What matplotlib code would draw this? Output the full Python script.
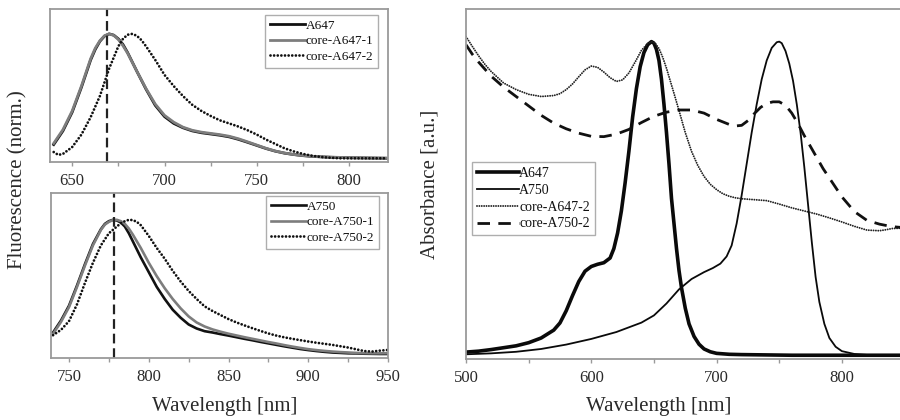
import matplotlib
matplotlib.use("Agg")
import matplotlib.pyplot as plt

plt.rcParams['font.family'] = ['Liberation Serif', 'DejaVu Serif']
plt.rcParams['lines.scale_dashes'] = False
plt.rcParams['lines.solid_joinstyle'] = 'round'
plt.rcParams['lines.dash_joinstyle'] = 'round'

# ---------------- Fluorescence, A647 series ----------------
wl_f647 = [640, 645, 650, 655, 660, 662.5, 665, 667.5, 670, 672.5, 675, 677.5, 680,
           685, 690, 695, 700, 705, 710, 715, 720, 725, 730, 735, 740, 745, 750,
           755, 760, 765, 770, 775, 780, 785, 790, 795, 800, 805, 810, 815, 820]
fl_a647 = [0.11, 0.22, 0.37, 0.57, 0.79, 0.875, 0.94, 0.982, 1.00, 0.99, 0.96,
           0.915, 0.85, 0.70, 0.555, 0.425, 0.335, 0.28, 0.245, 0.22, 0.205, 0.195,
           0.185, 0.172, 0.152, 0.128, 0.103, 0.078, 0.057, 0.041, 0.030, 0.021,
           0.015, 0.011, 0.008, 0.006, 0.004, 0.003, 0.002, 0.001, 0.0]
fl_core_a647_1 = [0.12, 0.23, 0.38, 0.58, 0.80, 0.885, 0.945, 0.985, 1.00, 0.988,
                  0.955, 0.905, 0.845, 0.70, 0.56, 0.435, 0.345, 0.29, 0.25, 0.225,
                  0.21, 0.20, 0.19, 0.177, 0.157, 0.132, 0.106, 0.080, 0.058, 0.042,
                  0.030, 0.022, 0.016, 0.012, 0.009, 0.007, 0.005, 0.004, 0.003,
                  0.002, 0.001]

wl_f647_core2 = [640, 642.5, 645, 650, 655, 660, 665, 670, 675, 677.5, 680, 682.5,
                 685, 687.5, 690, 695, 700, 705, 710, 715, 720, 725, 730, 735, 740,
                 745, 750, 755, 760, 765, 770, 775, 780, 785, 790, 795, 800, 810, 820]
fl_core_a647_2 = [0.05, 0.027, 0.035, 0.09, 0.19, 0.33, 0.50, 0.72, 0.90, 0.96,
                  0.993, 1.00, 0.985, 0.95, 0.90, 0.79, 0.67, 0.58, 0.50, 0.43,
                  0.38, 0.34, 0.305, 0.28, 0.255, 0.225, 0.19, 0.15, 0.115, 0.08,
                  0.055, 0.035, 0.02, 0.01, 0.004, 0.0, 0.0, 0.0, 0.0]
peak_a647_em = 669

# ---------------- Fluorescence, A750 series ----------------
wl_f750 = [740, 745, 750, 755, 760, 765, 770, 772.5, 775, 777.5, 780, 782.5, 785,
           787.5, 790, 795, 800, 805, 810, 815, 820, 825, 830, 835, 840, 845, 850,
           855, 860, 865, 870, 875, 880, 885, 890, 895, 900, 905, 910, 915, 920,
           925, 930, 935, 940, 945, 950]
fl_a750 = [0.16, 0.25, 0.36, 0.51, 0.67, 0.82, 0.93, 0.97, 0.99, 1.00, 0.995, 0.98,
           0.95, 0.90, 0.84, 0.72, 0.61, 0.50, 0.41, 0.33, 0.27, 0.22, 0.19, 0.17,
           0.16, 0.148, 0.137, 0.125, 0.113, 0.102, 0.090, 0.079, 0.068, 0.057,
           0.047, 0.037, 0.029, 0.022, 0.016, 0.011, 0.008, 0.005, 0.004, 0.002,
           0.001, 0.0, 0.0]
fl_core_a750_1 = [0.15, 0.24, 0.35, 0.50, 0.66, 0.81, 0.925, 0.965, 0.985, 0.998,
                  1.00, 0.99, 0.97, 0.935, 0.89, 0.79, 0.68, 0.58, 0.49, 0.41, 0.34,
                  0.28, 0.235, 0.205, 0.183, 0.166, 0.151, 0.138, 0.125, 0.113,
                  0.101, 0.089, 0.078, 0.066, 0.055, 0.045, 0.036, 0.029, 0.023,
                  0.018, 0.014, 0.011, 0.008, 0.006, 0.005, 0.005, 0.006]

wl_f750_core2 = [740, 745, 750, 755, 760, 765, 770, 775, 780, 782.5, 785, 787.5,
                 790, 792.5, 795, 800, 805, 810, 815, 820, 825, 830, 835, 840, 845,
                 850, 855, 860, 865, 870, 875, 880, 885, 890, 895, 900, 905, 910,
                 915, 920, 925, 930, 935, 940, 945, 950]
fl_core_a750_2 = [0.14, 0.18, 0.245, 0.37, 0.53, 0.68, 0.81, 0.90, 0.95, 0.975,
                  0.99, 1.00, 0.998, 0.985, 0.96, 0.88, 0.79, 0.71, 0.62, 0.54,
                  0.47, 0.41, 0.355, 0.32, 0.29, 0.26, 0.235, 0.213, 0.192, 0.172,
                  0.153, 0.137, 0.124, 0.113, 0.103, 0.093, 0.084, 0.076, 0.068,
                  0.058, 0.048, 0.035, 0.022, 0.018, 0.025, 0.030]
peak_a750_em = 778

# ---------------- Absorbance ----------------
wl_abs_a647 = [500, 510, 520, 530, 540, 550, 560, 570, 575, 580, 585, 590, 595, 600,
               605, 610, 615, 618, 621, 624, 627, 630, 633, 636, 639, 642, 645, 648,
               650, 652, 654, 656, 658, 660, 662, 664, 666, 668, 670, 672, 675, 678,
               682, 686, 690, 695, 700, 710, 720, 740, 760, 800, 850]
abs_a647 = [0.01, 0.013, 0.018, 0.024, 0.030, 0.040, 0.055, 0.080, 0.103, 0.142,
            0.19, 0.235, 0.268, 0.283, 0.29, 0.295, 0.31, 0.34, 0.39, 0.46, 0.55,
            0.65, 0.76, 0.85, 0.92, 0.965, 0.99, 1.00, 0.995, 0.975, 0.94, 0.88,
            0.80, 0.71, 0.61, 0.50, 0.42, 0.34, 0.27, 0.215, 0.15, 0.10, 0.06,
            0.035, 0.02, 0.011, 0.006, 0.003, 0.002, 0.001, 0.0, 0.0, 0.0]

wl_abs_a750 = [500, 520, 540, 560, 580, 600, 620, 640, 650, 660, 670, 680, 690, 697,
               703, 708, 712, 716, 720, 724, 728, 732, 736, 740, 744, 748, 750, 752,
               755, 758, 761, 764, 767, 770, 773, 776, 779, 782, 786, 790, 795, 800,
               810, 820, 850]
abs_a750 = [0.003, 0.006, 0.011, 0.020, 0.034, 0.052, 0.074, 0.104, 0.127, 0.165,
            0.21, 0.243, 0.265, 0.278, 0.292, 0.315, 0.35, 0.42, 0.51, 0.61, 0.71,
            0.80, 0.88, 0.94, 0.98, 0.998, 1.00, 0.995, 0.97, 0.93, 0.875, 0.80,
            0.71, 0.60, 0.48, 0.36, 0.25, 0.17, 0.10, 0.055, 0.027, 0.013, 0.004,
            0.001, 0.0]

wl_abs_core_a647_2 = [500, 505, 510, 515, 520, 530, 540, 550, 560, 570, 575, 580, 585,
                      590, 595, 600, 605, 610, 615, 620, 625, 630, 635, 640, 645, 648,
                      651, 654, 657, 660, 663, 666, 670, 675, 680, 685, 690, 695, 700,
                      705, 710, 715, 720, 730, 740, 750, 760, 770, 780, 790, 800, 810,
                      820, 830, 835, 840, 846, 850]
abs_core_a647_2 = [1.016, 0.985, 0.955, 0.928, 0.905, 0.868, 0.847, 0.832, 0.825,
                   0.828, 0.834, 0.847, 0.865, 0.888, 0.91, 0.922, 0.918, 0.903,
                   0.885, 0.873, 0.878, 0.90, 0.935, 0.972, 0.994, 1.00, 0.995,
                   0.978, 0.95, 0.915, 0.875, 0.835, 0.78, 0.71, 0.65, 0.605, 0.57,
                   0.545, 0.528, 0.515, 0.507, 0.502, 0.499, 0.496, 0.493, 0.482,
                   0.47, 0.46, 0.45, 0.438, 0.425, 0.411, 0.399, 0.397, 0.40, 0.404,
                   0.405, 0.406]

wl_abs_core_a750_2 = [500, 505, 510, 520, 530, 540, 550, 560, 570, 580, 590, 600, 610,
                      620, 630, 640, 650, 660, 670, 680, 690, 700, 710, 715, 720, 725,
                      730, 735, 740, 745, 750, 755, 760, 765, 770, 775, 780, 785, 790,
                      795, 800, 810, 820, 830, 840, 846, 850]
abs_core_a750_2 = [0.99, 0.96, 0.935, 0.89, 0.855, 0.825, 0.795, 0.765, 0.74, 0.722,
                   0.708, 0.698, 0.697, 0.705, 0.72, 0.742, 0.762, 0.775, 0.782,
                   0.782, 0.772, 0.752, 0.736, 0.731, 0.733, 0.748, 0.77, 0.79,
                   0.803, 0.808, 0.808, 0.797, 0.772, 0.738, 0.70, 0.665, 0.63,
                   0.595, 0.565, 0.535, 0.505, 0.458, 0.43, 0.418, 0.41, 0.408, 0.407]

FRAME = '#9a9a9a'
TEXT = '#2a2a2a'
W, H = 900, 420


def box(l, t, r, b):
    return [l / W, 1 - b / H, (r - l) / W, (b - t) / H]


def style_axes(ax, major, minor, right=True):
    for side, sp in ax.spines.items():
        sp.set_color(FRAME)
        sp.set_linewidth(1.3)
    if not right:
        ax.spines['right'].set_visible(False)
    ax.set_yticks([])
    ax.set_xticks(major)
    ax.set_xticks(minor, minor=True)
    ax.tick_params(axis='x', which='both', direction='out', length=3, width=1,
                   color=FRAME, labelsize=12, labelcolor=TEXT, pad=5)


def legend(ax, anchor, fs, spacing, hl):
    lg = ax.legend(loc='upper left', bbox_to_anchor=anchor, borderaxespad=0,
                   fontsize=fs, frameon=True, fancybox=False, handlelength=hl,
                   handletextpad=0.05, labelspacing=spacing, borderpad=0.35)
    fr = lg.get_frame()
    fr.set_edgecolor(FRAME)
    fr.set_linewidth(1.0)
    for t in lg.get_texts():
        t.set_color('#111111')
    return lg


dotted_fl = dict(dashes=(0.01, 2.6), dash_capstyle='round', lw=2.0)
dotted_abs = dict(dashes=(0.01, 1.7), dash_capstyle='round', lw=1.4)

fig = plt.figure(figsize=(9, 4.2), dpi=100)

# top-left: emission of A647 samples
ax1 = fig.add_axes(box(50, 9, 388, 162))
ax1.plot(wl_f647, fl_a647, color='#111111', lw=2.0, label='A647')
ax1.plot(wl_f647, fl_core_a647_1, color='#7d7d7d', lw=2.0, label='core-A647-1')
ax1.plot(wl_f647_core2, fl_core_a647_2, color='#111111', label='core-A647-2',
         **dotted_fl)
ax1.axvline(peak_a647_em, color='#222222', lw=1.6, dashes=(7, 3.5))
ax1.set_xlim(638, 821)
ax1.set_ylim(-0.03, 1.2)
style_axes(ax1, [650, 700, 750, 800], list(range(650, 821, 25)))
legend(ax1, (0.636, 0.961), 9.5, 0.25, 2.7)

# bottom-left: emission of A750 samples
ax2 = fig.add_axes(box(51, 193, 388, 358))
ax2.plot(wl_f750, fl_a750, color='#111111', lw=1.9, label='A750')
ax2.plot(wl_f750, fl_core_a750_1, color='#7d7d7d', lw=1.9, label='core-A750-1')
ax2.plot(wl_f750_core2, fl_core_a750_2, color='#111111', label='core-A750-2',
         **dotted_fl)
ax2.axvline(peak_a750_em, color='#222222', lw=1.6, dashes=(7, 3.5))
ax2.set_xlim(738.7, 950)
ax2.set_ylim(-0.03, 1.2)
style_axes(ax2, [750, 800, 850, 900, 950], list(range(750, 951, 25)))
legend(ax2, (0.638, 0.982), 9.5, 0.25, 2.7)

# right: absorbance spectra
ax3 = fig.add_axes(box(466, 9, 466 + 350 * 1.253, 359))
ax3.plot(wl_abs_a647, abs_a647, color='#0a0a0a', lw=2.6, label='A647')
ax3.plot(wl_abs_a750, abs_a750, color='#0a0a0a', lw=1.3, label='A750')
ax3.plot(wl_abs_core_a647_2, abs_core_a647_2, color='#222222',
         label='core-A647-2', **dotted_abs)
ax3.plot(wl_abs_core_a750_2, abs_core_a750_2, color='#111111', lw=2.0,
         dashes=(9, 6), label='core-A750-2')
ax3.set_xlim(500, 850)
ax3.set_ylim(-0.012, 1.104)
style_axes(ax3, [500, 600, 700, 800], list(range(500, 851, 50)), right=False)
legend(ax3, (0.0137, 0.563), 10, 0.28, 3.0)

# axis titles
fig.text(18 / W, 1 - 180 / H, 'Fluorescence (norm.)', rotation=90, ha='center',
         va='center', fontsize=15, color=TEXT)
fig.text(225 / W, 1 - 407 / H, 'Wavelength [nm]', ha='center', va='center',
         fontsize=15, color=TEXT)
fig.text(430 / W, 1 - 184 / H, 'Absorbance [a.u.]', rotation=90, ha='center',
         va='center', fontsize=15, color=TEXT)
fig.text(659 / W, 1 - 407 / H, 'Wavelength [nm]', ha='center', va='center',
         fontsize=15, color=TEXT)

fig.savefig('out.png', dpi=100, facecolor='white')
